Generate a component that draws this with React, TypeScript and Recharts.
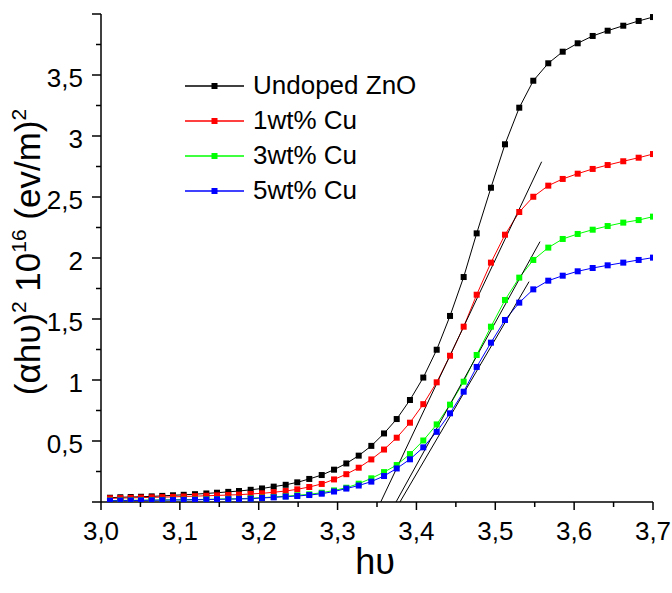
import React from 'react';
import { LineChart, Line, XAxis, YAxis } from 'recharts';

// photon energy (eV)
const hv = [
  3.0114, 3.0245, 3.0377, 3.0507, 3.0643, 3.0777, 3.0913, 3.1049, 3.1192, 3.1336, 3.1471,
  3.1614, 3.175, 3.1898, 3.2042, 3.219, 3.2342, 3.2489, 3.2641, 3.2799, 3.2955, 3.3111,
  3.3268, 3.3428, 3.3589, 3.375, 3.3918, 3.4087, 3.4257, 3.4426, 3.4599, 3.4764, 3.4945,
  3.5123, 3.5304, 3.5482, 3.5672, 3.5855, 3.6045, 3.6235, 3.6425, 3.6623, 3.6818, 3.7,
];

const undoped = [
  0.035, 0.039, 0.041, 0.043, 0.046, 0.05, 0.055, 0.059, 0.064, 0.07, 0.076,
  0.083, 0.09, 0.1, 0.111, 0.126, 0.141, 0.161, 0.189, 0.221, 0.265, 0.316,
  0.38, 0.46, 0.562, 0.68, 0.836, 1.02, 1.248, 1.525, 1.844, 2.202, 2.576,
  2.932, 3.232, 3.453, 3.596, 3.691, 3.76, 3.82, 3.863, 3.904, 3.943, 3.975,
];

const cu1 = [
  0.03, 0.032, 0.034, 0.036, 0.038, 0.04, 0.042, 0.045, 0.048, 0.051, 0.054,
  0.057, 0.06, 0.066, 0.071, 0.08, 0.09, 0.104, 0.123, 0.148, 0.185, 0.228,
  0.281, 0.349, 0.43, 0.527, 0.65, 0.802, 0.981, 1.199, 1.437, 1.699, 1.962,
  2.191, 2.377, 2.502, 2.593, 2.648, 2.691, 2.73, 2.762, 2.793, 2.822, 2.852,
];

const cu3 = [
  0.012, 0.013, 0.014, 0.015, 0.016, 0.017, 0.018, 0.019, 0.02, 0.022, 0.024,
  0.026, 0.027, 0.031, 0.036, 0.041, 0.047, 0.055, 0.063, 0.076, 0.095, 0.117,
  0.15, 0.194, 0.245, 0.303, 0.393, 0.504, 0.636, 0.798, 0.986, 1.205, 1.437,
  1.656, 1.839, 1.984, 2.085, 2.156, 2.197, 2.232, 2.262, 2.29, 2.311, 2.339,
];

const cu5 = [
  0.01, 0.011, 0.012, 0.013, 0.014, 0.015, 0.016, 0.017, 0.018, 0.02, 0.022,
  0.023, 0.025, 0.027, 0.033, 0.038, 0.044, 0.049, 0.057, 0.068, 0.086, 0.11,
  0.135, 0.167, 0.213, 0.275, 0.35, 0.448, 0.575, 0.727, 0.904, 1.107, 1.306,
  1.492, 1.634, 1.743, 1.814, 1.855, 1.891, 1.918, 1.94, 1.962, 1.984, 2.003,
];

// linear fits for the band gap (endpoints as drawn)
const fitCu1 = [{ hv: 3.3547, y: 0 }, { hv: 3.5588, y: 2.789 }];
const fitCu3 = [{ hv: 3.3741, y: 0 }, { hv: 3.5567, y: 2.134 }];
const fitCu5 = [{ hv: 3.3791, y: 0 }, { hv: 3.5428, y: 1.806 }];

const xTicks = [3.0, 3.05, 3.1, 3.15, 3.2, 3.25, 3.3, 3.35, 3.4, 3.45, 3.5, 3.55, 3.6, 3.65, 3.7];
const yTicks = [0, 0.25, 0.5, 0.75, 1, 1.25, 1.5, 1.75, 2, 2.25, 2.5, 2.75, 3, 3.25, 3.5, 3.75, 4];

const series = [
  { key: 'undoped', name: 'Undoped ZnO', color: '#000000' },
  { key: 'cu1', name: '1wt% Cu', color: '#ff0000' },
  { key: 'cu3', name: '3wt% Cu', color: '#00ff00' },
  { key: 'cu5', name: '5wt% Cu', color: '#0000ff' },
];

const rows = hv.map((x, i) => ({ hv: x, undoped: undoped[i], cu1: cu1[i], cu3: cu3[i], cu5: cu5[i] }));

const FONT = '"Liberation Sans", Arial, sans-serif';
const comma = (v: number, d: number) => v.toFixed(d).replace('.', ',');

const isMajor = (v: number, step: number) => Math.abs(v / step - Math.round(v / step)) < 1e-6;

const BottomTick = (p: any) => {
  const v = p.payload.value;
  const major = isMajor(v, 0.1);
  return (
    <g>
      <line x1={p.x} x2={p.x} y1={p.y} y2={p.y + (major ? 8 : 5)} stroke="#000" strokeWidth={1.5} />
      {major && (
        <text x={p.x} y={p.y + 38} textAnchor="middle" fontSize={26} fontFamily={FONT} fill="#000">
          {comma(v, 1)}
        </text>
      )}
    </g>
  );
};

const LeftTick = (p: any) => {
  const v = p.payload.value;
  const major = isMajor(v, 0.5);
  const show = major && v > 0 && v < 4;
  return (
    <g>
      <line x1={p.x} x2={p.x - (major ? 9 : 5)} y1={p.y} y2={p.y} stroke="#000" strokeWidth={1.5} />
      {show && (
        <text x={p.x - 18} y={p.y + 12} textAnchor="end" fontSize={26} fontFamily={FONT} fill="#000">
          {Number.isInteger(v) ? String(v) : comma(v, 1)}
        </text>
      )}
    </g>
  );
};

const TopTick = (p: any) => (
  <line x1={p.x} x2={p.x} y1={p.y} y2={p.y + 4} stroke="#000" strokeWidth={1.2} />
);

const RightTick = (p: any) => (
  <line x1={p.x} x2={p.x - 4} y1={p.y} y2={p.y} stroke="#000" strokeWidth={1.2} />
);

const square = (color: string) => (p: any) => (
  <rect key={p.index} x={p.cx - 3} y={p.cy - 3} width={6} height={6} fill={color} />
);

const YTitle = () => (
  <text
    x={40}
    y={252}
    transform="rotate(-90, 40, 252)"
    textAnchor="middle"
    fontSize={35}
    fontFamily={FONT}
    fill="#000"
  >
    <tspan>(αhυ)</tspan>
    <tspan dy={-14} fontSize={21}>2</tspan>
    <tspan dy={14}> 10</tspan>
    <tspan dy={-14} fontSize={21}>16</tspan>
    <tspan dy={14}> (ev/m)</tspan>
    <tspan dy={-14} fontSize={21}>2</tspan>
  </text>
);

const XTitle = () => (
  <text x={375} y={574} textAnchor="middle" fontSize={36} fontFamily={FONT} fill="#000">
    hυ
  </text>
);

function LegendBox() {
  return (
    <div style={{ position: 'absolute', left: 185, top: 68, fontFamily: FONT, fontSize: 26, color: '#000' }}>
      {series.map((s, i) => (
        <div key={s.key} style={{ display: 'flex', alignItems: 'center', height: 35, position: 'absolute', top: i * 35, whiteSpace: 'nowrap' }}>
          <svg width={60} height={12} style={{ display: 'block' }}>
            <line x1={0} x2={59} y1={6} y2={6} stroke={s.color} strokeWidth={1.5} />
            <rect x={26.5} y={3} width={6} height={6} fill={s.color} />
          </svg>
          <span style={{ marginLeft: 8, lineHeight: '35px' }}>{s.name}</span>
        </div>
      ))}
    </div>
  );
}

export default function App() {
  return (
    <div style={{ position: 'absolute', left: 0, top: 0, width: 672, height: 593, background: '#fff' }}>
      <LineChart width={672} height={593} data={rows} margin={{ top: 14, right: 19, bottom: 0, left: 0 }}>
        <XAxis
          dataKey="hv"
          type="number"
          domain={[3.0, 3.7]}
          allowDataOverflow
          ticks={xTicks}
          interval={0}
          height={91}
          tickSize={0}
          tickMargin={0}
          tick={<BottomTick />}
          axisLine={{ stroke: '#000', strokeWidth: 1.5 }}
          label={<XTitle />}
        />
        <XAxis
          xAxisId="top"
          orientation="top"
          dataKey="hv"
          type="number"
          domain={[3.0, 3.7]}
          allowDataOverflow
          ticks={xTicks}
          interval={0}
          height={0}
          tickSize={0}
          tickMargin={0}
          tick={<TopTick />}
          axisLine={{ stroke: '#000', strokeWidth: 1.5 }}
        />
        <YAxis
          type="number"
          domain={[0, 4]}
          allowDataOverflow
          ticks={yTicks}
          interval={0}
          width={101}
          tickSize={0}
          tickMargin={0}
          tick={<LeftTick />}
          axisLine={{ stroke: '#000', strokeWidth: 1.5 }}
          label={<YTitle />}
        />
        <YAxis
          yAxisId="right"
          orientation="right"
          type="number"
          domain={[0, 4]}
          allowDataOverflow
          ticks={yTicks}
          interval={0}
          width={0}
          tickSize={0}
          tickMargin={0}
          tick={<RightTick />}
          axisLine={{ stroke: '#000', strokeWidth: 1.5 }}
        />
        {series.map((s) => (
          <Line
            key={s.key}
            dataKey={s.key}
            name={s.name}
            stroke={s.color}
            strokeWidth={1}
            dot={square(s.color)}
            activeDot={false}
            isAnimationActive={false}
          />
        ))}
        <Line data={fitCu1} dataKey="y" stroke="#000" strokeWidth={1} dot={false} activeDot={false} isAnimationActive={false} />
        <Line data={fitCu3} dataKey="y" stroke="#000" strokeWidth={1} dot={false} activeDot={false} isAnimationActive={false} />
        <Line data={fitCu5} dataKey="y" stroke="#000" strokeWidth={1} dot={false} activeDot={false} isAnimationActive={false} />
      </LineChart>
      <LegendBox />
    </div>
  );
}
